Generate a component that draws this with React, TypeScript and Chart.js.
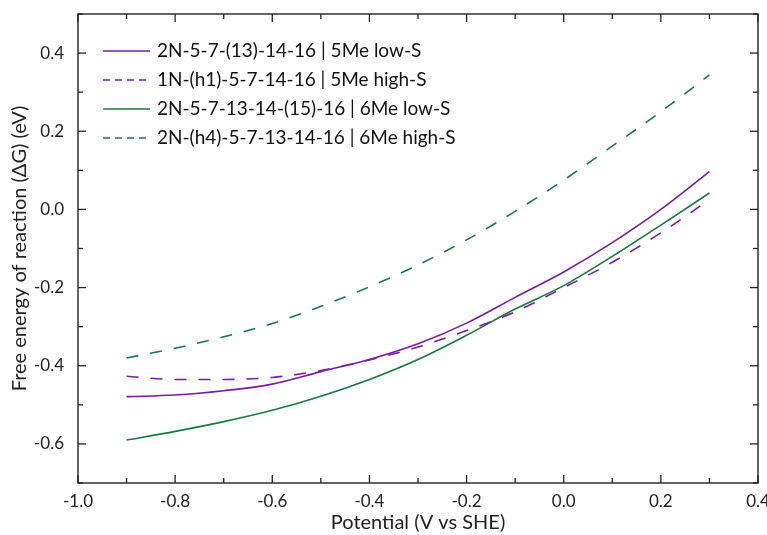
import React, { useEffect, useRef } from "react";
import { Chart, registerables } from "chart.js";

Chart.register(...registerables);

const potential = [-0.9, -0.8, -0.7, -0.6, -0.5, -0.4, -0.3, -0.2, -0.1, 0.0, 0.1, 0.2, 0.3];
const me5LowS = [-0.479, -0.475, -0.464, -0.447, -0.415, -0.384, -0.344, -0.291, -0.225, -0.16, -0.085, 0.0, 0.097];
const me5HighS = [-0.427, -0.435, -0.435, -0.43, -0.412, -0.385, -0.352, -0.31, -0.262, -0.2, -0.135, -0.06, 0.025];
const me6LowS = [-0.59, -0.568, -0.543, -0.514, -0.478, -0.435, -0.384, -0.322, -0.255, -0.195, -0.12, -0.04, 0.042];
const me6HighS = [-0.38, -0.355, -0.326, -0.292, -0.248, -0.198, -0.142, -0.078, -0.005, 0.075, 0.162, 0.25, 0.344];

const seriesLabels = [
  "2N-5-7-(13)-14-16 | 5Me low-S",
  "1N-(h1)-5-7-14-16 | 5Me high-S",
  "2N-5-7-13-14-(15)-16 | 6Me low-S",
  "2N-(h4)-5-7-13-14-16 | 6Me high-S",
];

const xAxisTitle = "Potential (V vs SHE)";
const yAxisTitle = "Free energy of reaction (\u0394G) (eV)";

const PURPLE = "#7a1aa6";
const GREEN = "#167a3c";
const FONT = "Lato, 'Open Sans', sans-serif";

const isMajor = (v: number) => Math.abs(Math.round(v * 10)) % 2 === 0;
const fmt = (v: number) => {
  const r = Math.round(v * 10) / 10;
  return (r === 0 ? 0 : r).toFixed(1);
};

const framePlugin = {
  id: "frameTicksLegend",
  afterDraw(chart: any) {
    const { ctx, chartArea: a, scales } = chart;
    const xs = scales.x;
    const ys = scales.y;
    ctx.save();
    ctx.strokeStyle = "#222";
    ctx.lineWidth = 1.4;
    ctx.setLineDash([]);
    ctx.strokeRect(a.left, a.top, a.right - a.left, a.bottom - a.top);
    const seg = (x1: number, y1: number, x2: number, y2: number) => {
      ctx.beginPath();
      ctx.moveTo(x1, y1);
      ctx.lineTo(x2, y2);
      ctx.stroke();
    };
    ctx.lineWidth = 1.3;
    xs.ticks.forEach((t: any) => {
      const px = xs.getPixelForValue(t.value);
      const len = isMajor(t.value) ? 8 : 5;
      seg(px, a.bottom, px, a.bottom - len);
      seg(px, a.top, px, a.top + len);
    });
    ys.ticks.forEach((t: any) => {
      const py = ys.getPixelForValue(t.value);
      const len = isMajor(t.value) ? 8 : 5;
      seg(a.left, py, a.left + len, py);
      seg(a.right, py, a.right - len, py);
    });
    // legend
    const rows = [51, 80, 109, 138];
    chart.data.datasets.forEach((ds: any, i: number) => {
      const y = rows[i];
      ctx.strokeStyle = ds.borderColor;
      ctx.lineWidth = 1.5;
      ctx.setLineDash(ds.borderDash && ds.borderDash.length ? [7, 5] : []);
      seg(103, y, 150, y);
      ctx.setLineDash([]);
      ctx.fillStyle = "#111";
      ctx.font = `19px ${FONT}`;
      ctx.textBaseline = "middle";
      ctx.textAlign = "left";
      ctx.fillText(ds.label, 157, y);
    });
    ctx.restore();
  },
};

export default function App() {
  const ref = useRef<HTMLCanvasElement>(null);
  useEffect(() => {
    if (!ref.current) return;
    const mk = (vals: number[]) => potential.map((x, i) => ({ x, y: vals[i] }));
    const chart = new Chart(ref.current, {
      type: "line",
      data: {
        datasets: [
          { label: seriesLabels[0], data: mk(me5LowS), borderColor: PURPLE, borderDash: [], borderWidth: 1.6 },
          { label: seriesLabels[1], data: mk(me5HighS), borderColor: PURPLE, borderDash: [12, 12], borderWidth: 1.6 },
          { label: seriesLabels[2], data: mk(me6LowS), borderColor: GREEN, borderDash: [], borderWidth: 1.6 },
          { label: seriesLabels[3], data: mk(me6HighS), borderColor: GREEN, borderDash: [12, 12], borderWidth: 1.6 },
        ],
      },
      options: {
        animation: false,
        responsive: false,
        devicePixelRatio: 1,
        layout: { padding: { top: 14, right: 9, left: 0, bottom: 0 } },
        elements: {
          point: { radius: 0 },
          line: { cubicInterpolationMode: "monotone", fill: false },
        },
        plugins: { legend: { display: false }, tooltip: { enabled: false } },
        scales: {
          x: {
            type: "linear",
            min: -1.0,
            max: 0.4,
            afterFit: (s: any) => { s.height = 52; s.paddingLeft = 0; s.paddingRight = 0; },
            ticks: {
              stepSize: 0.1,
              autoSkip: false,
              maxRotation: 0,
              padding: 8,
              color: "#222",
              font: { family: FONT, size: 17 },
              callback: (v: any) => (isMajor(Number(v)) ? fmt(Number(v)) : ""),
            },
            grid: { display: false, drawTicks: false },
            border: { display: false },
            title: {
              display: true,
              text: xAxisTitle,
              color: "#222",
              font: { family: FONT, size: 20 },
              padding: { top: 0, bottom: 0 },
            },
          },
          y: {
            type: "linear",
            min: -0.7,
            max: 0.5,
            afterFit: (s: any) => { s.width = 78; s.paddingTop = 0; s.paddingBottom = 0; },
            ticks: {
              stepSize: 0.1,
              autoSkip: false,
              padding: 14,
              color: "#222",
              font: { family: FONT, size: 17 },
              callback: (v: any) => (isMajor(Number(v)) ? fmt(Number(v)) : ""),
            },
            grid: { display: false, drawTicks: false },
            border: { display: false },
            title: {
              display: true,
              text: yAxisTitle,
              color: "#222",
              font: { family: FONT, size: 20 },
              padding: { top: 8, bottom: 0 },
            },
          },
        },
      },
      plugins: [framePlugin],
    });
    return () => chart.destroy();
  }, []);
  return (
    <div style={{ position: "absolute", left: 0, top: 0, width: 767, height: 535, background: "#fff" }}>
      <canvas ref={ref} width={767} height={535} />
    </div>
  );
}
